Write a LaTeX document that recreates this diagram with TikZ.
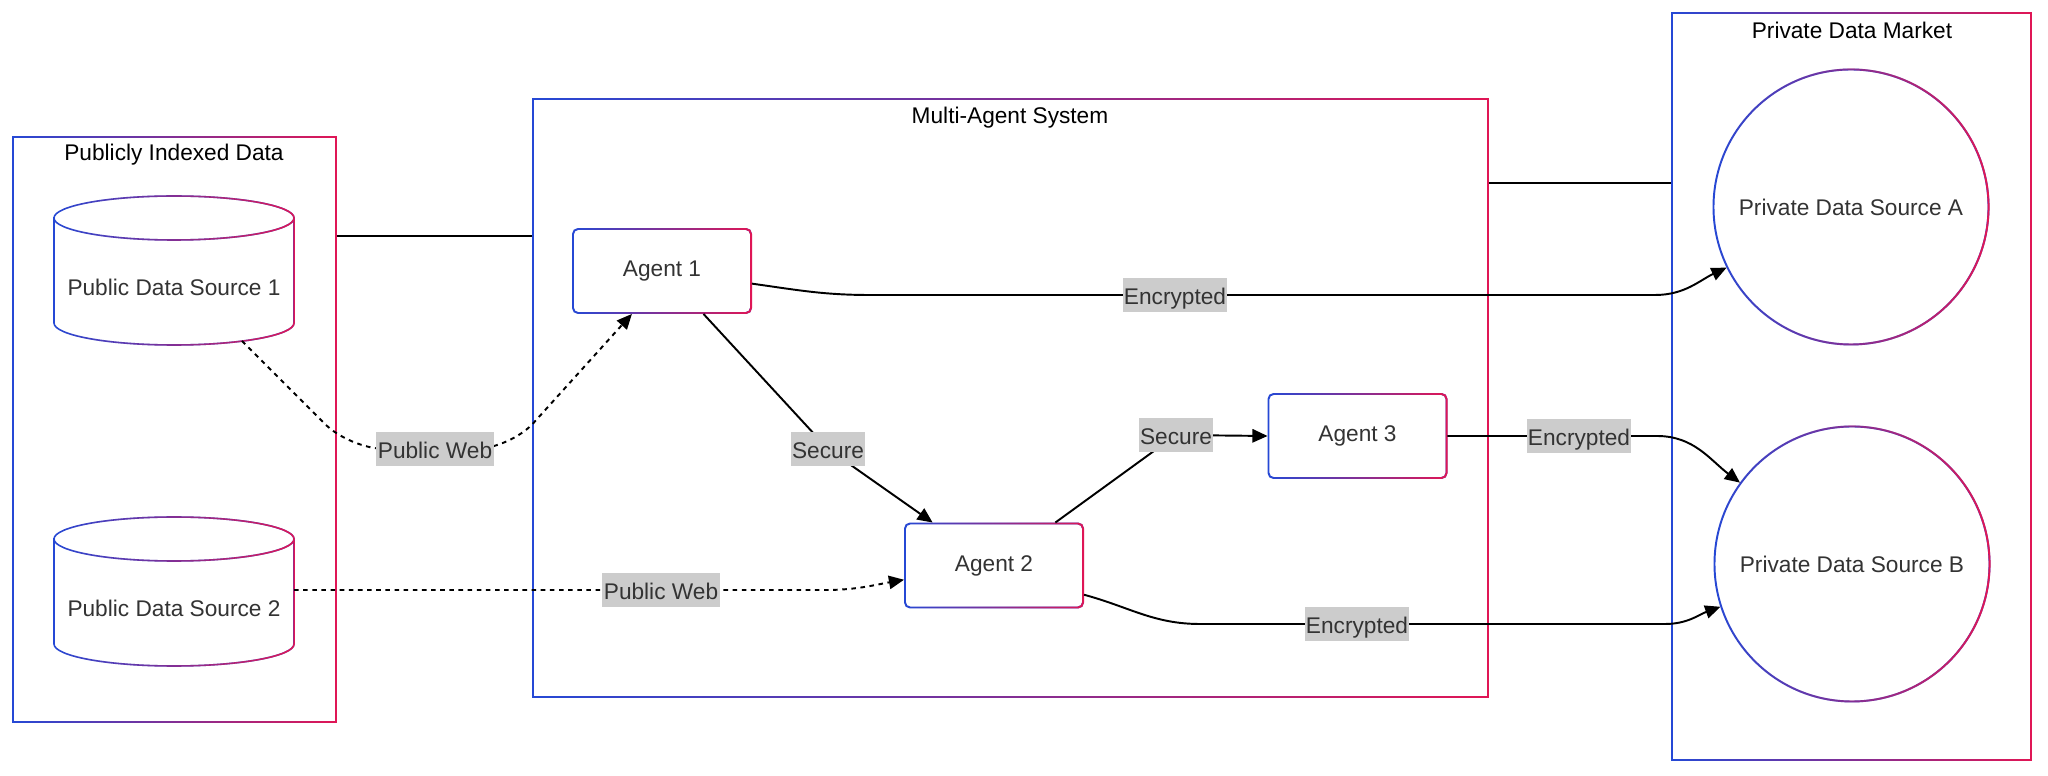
\documentclass[tikz,border=0pt]{standalone}
\usepackage{fontspec}
\setmainfont{Liberation Sans}
\usetikzlibrary{arrows.meta, positioning, calc, fadings}
\definecolor{mblue}{RGB}{37, 73, 214}
\definecolor{mpink}{RGB}{225, 22, 85}
\definecolor{lblgray}{RGB}{204, 204, 204}
\definecolor{txtgray}{RGB}{51, 51, 51}
\tikzfading[name=fadeleft, left color=transparent!100, right color=transparent!0]
\newcommand{\diagfont}{\fontsize{6.45pt}{7.7pt}\selectfont}
\tikzset{
  gradline/.style={draw=mblue, line width=0.45pt, postaction={draw=mpink, path fading=fadeleft}},
  groupbox/.style={gradline, fill=white, inner sep=0pt},
  grouptitle/.style={text=black},
  agent/.style={gradline, line width=0.55pt, fill=white, rounded corners=0.05cm,
    minimum width=1.78cm, minimum height=0.84cm, text=txtgray},
  market/.style={gradline, line width=0.55pt, circle, fill=white, minimum size=2.75cm,
    inner sep=0pt, text=txtgray},
  nodetext/.style={text=txtgray},
  link/.style={draw=black, line width=0.55pt},
  arrowlink/.style={link, -{Triangle[length=4.3pt, width=3.8pt]}},
  dotlink/.style={arrowlink, dash pattern=on 1.3pt off 1.3pt},
  edgelabel/.style={fill=lblgray, text=txtgray, sharp corners, inner xsep=0.4pt, inner ysep=0pt,
    minimum height=0.33cm, text height=0.75em, text depth=0.22em},
}

\begin{document}
\begin{tikzpicture}[font=\diagfont]

  \useasboundingbox (0,0) rectangle (20.48,7.76);

  % 分组框
  \node[groupbox, minimum width=3.23cm, minimum height=5.85cm] (pid) at (1.745,3.465) {};
  \node[grouptitle] at (1.74,6.21) {Publicly Indexed Data};
  \node[groupbox, minimum width=9.55cm, minimum height=5.98cm] (mas) at (10.105,3.78) {};
  \node[grouptitle] at (10.10,6.58) {Multi-Agent System};
  \node[groupbox, minimum width=3.59cm, minimum height=7.47cm] (pdm) at (18.515,3.895) {};
  \node[grouptitle] at (18.52,7.46) {Private Data Market};

  % 分组之间的连线
  \draw[link] (pid.east |- 0,5.40) -- (mas.west |- 0,5.40);
  \draw[link] (mas.east |- 0,5.93) -- (pdm.west |- 0,5.93);

  % 公开数据源（圆柱）
  \draw[gradline, fill=white] (0.54,5.58) -- (0.54,4.53)
    arc[start angle=180, end angle=360, x radius=1.2, y radius=0.22] -- (2.94,5.58)
    arc[start angle=0, end angle=180, x radius=1.2, y radius=0.22] -- cycle;
  \draw[gradline] (0.54,5.58) arc[start angle=180, end angle=360, x radius=1.2, y radius=0.22];
  \node[nodetext] (pds1) at (1.74,4.89) {Public Data Source 1};
  \coordinate (pds1out) at (2.42,4.35);

  \draw[gradline, fill=white] (0.54,2.37) -- (0.54,1.32)
    arc[start angle=180, end angle=360, x radius=1.2, y radius=0.22] -- (2.94,2.37)
    arc[start angle=0, end angle=180, x radius=1.2, y radius=0.22] -- cycle;
  \draw[gradline] (0.54,2.37) arc[start angle=180, end angle=360, x radius=1.2, y radius=0.22];
  \node[nodetext] (pds2) at (1.74,1.68) {Public Data Source 2};
  \coordinate (pds2out) at (2.94,1.86);

  % 智能体
  \node[agent] (agent1) at (6.62,5.05) {Agent 1};
  \node[agent] (agent2) at (9.94,2.105) {Agent 2};
  \node[agent] (agent3) at (13.575,3.40) {Agent 3};

  % 私有数据源
  \node[market] (pdsA) at (18.51,5.69) {Private Data Source A};
  \node[market] (pdsB) at (18.52,2.12) {Private Data Source B};

  % 公开网络（虚线）
  \draw[dotlink, rounded corners=0.35cm] (pds1out) -- (3.50,3.27)
    -- (4.35,3.27) node[edgelabel] (pw1) {Public Web}
    -- (5.10,3.27) -- (agent1.235);
  \draw[dotlink] (pds2out) -- (6.61,1.86) node[edgelabel] (pw2) {Public Web}
    -- (8.25,1.86) to[out=0, in=190] (agent2.189);

  % 内部安全通道
  \draw[arrowlink] (agent1.-46) -- (8.28,3.27) node[edgelabel] (sec1) {Secure} -- (agent2.145);
  \draw[arrowlink] (agent2.35) -- (11.76,3.41) node[edgelabel] (sec2) {Secure} -- (agent3.west);

  % 加密通道
  \draw[arrowlink] (agent1.-8) to[out=-8, in=180] (8.70,4.81)
    -- (11.75,4.81) node[edgelabel] (enc1) {Encrypted}
    -- (16.55,4.81) to[out=0, in=205] (pdsA.206);
  \draw[arrowlink] (agent3.east) -- (15.79,3.40) node[edgelabel] (enc2) {Encrypted}
    -- (16.57,3.40) to[out=0, in=143] (pdsB.144);
  \draw[arrowlink] (agent2.-18) to[out=-15, in=180] (12.00,1.52)
    -- (13.57,1.52) node[edgelabel] (enc3) {Encrypted}
    -- (16.65,1.52) to[out=0, in=200] (pdsB.198);

\end{tikzpicture}
\end{document}
